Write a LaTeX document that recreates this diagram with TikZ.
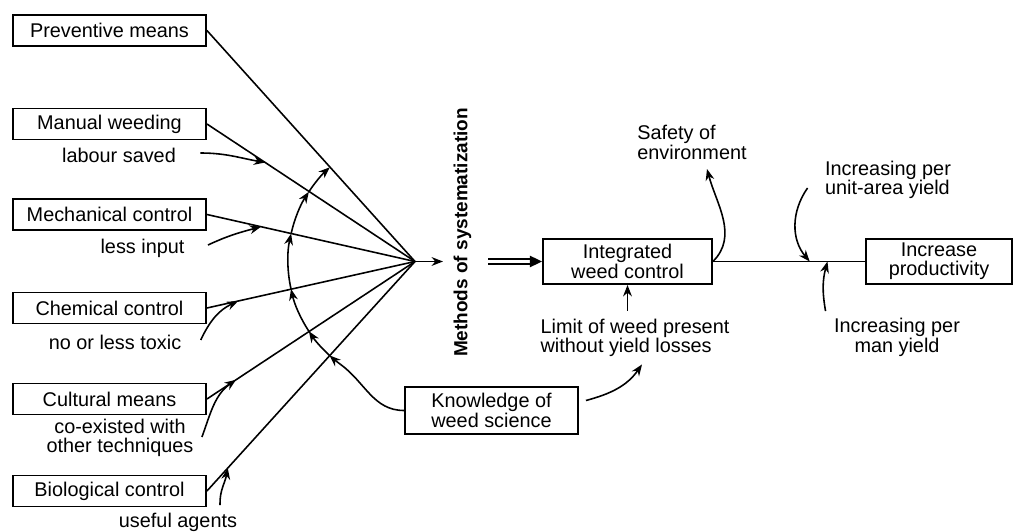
\documentclass[tikz,border=0pt]{standalone}
\usepackage{fontspec}
\setmainfont{Liberation Sans}
\usetikzlibrary{arrows.meta, calc}
\tikzset{
  box/.style={draw, line width=1.1pt, minimum width=3.86cm, minimum height=0.62cm, inner sep=2pt, align=center, font=\fontsize{11.3}{11}\selectfont},
  note/.style={inner sep=1pt, align=center, font=\fontsize{11.3}{11}\selectfont},
}

\begin{document}
\begin{tikzpicture}[x=0.02cm, y=0.02cm, line width=0.9pt, >={Stealth[length=6.5pt,width=5pt]}]
  \useasboundingbox (0,0) rectangle (1014,531);

  \node[box] (pm) at (109.5,500.5) {Preventive means};
  \node[box] (mw) at (109.5,407) {Manual weeding};
  \node[box] (mc) at (109.5,316.5) {Mechanical control};
  \node[box] (cc) at (109.5,223) {Chemical control};
  \node[box] (cm) at (109.5,132) {Cultural means};
  \node[box] (bc) at (109.5,40) {Biological control};

  \node[note] (ls) at (119,376) {labour saved};
  \node[note] (li) at (142.5,283) {less input};
  \node[note] (nt) at (115,189) {no or less toxic};
  \node[note] (ce) at (120,93) {co-existed with\\other techniques};
  \node[note] (ua) at (178,9) {useful agents};

  \coordinate (focal) at (415,269.5);
  \coordinate (out) at (443,269.5);
  \foreach \b in {pm,mw,mc,cc,cm,bc}
    \draw (\b.east) -- (focal);
  \draw[->] (focal) -- (out);

  \draw[->] ([shift={(22,2)}]ls.east) to[out=0,in=170] ($(mw.east)!0.28!(focal)$);
  \draw[->] ([shift={(21,3)}]li.east) to[out=25,in=195] ($(mc.east)!0.26!(focal)$);
  \draw[->] ([shift={(17,2)}]nt.east) to[out=65,in=205] ($(cc.east)!0.15!(focal)$);
  \draw[->] ([shift={(6,1)}]ce.east) to[out=70,in=215] ($(cm.east)!0.14!(focal)$);
  \draw[->] ([shift={(42,5)}]ua.north) to[out=92,in=-100] ($(bc.east)!0.10!(focal)$);

  \node[box, minimum width=3.46cm, minimum height=0.94cm] (kw) at (491.5,120.5) {Knowledge of\\weed science};
  \draw (kw.west) to[out=180,in=-36] ($(focal)+(234:127)$);
  \foreach \a/\b in {234/227.7, 227.7/213.3, 213.3/192.5, 192.5/167.3, 167.3/146.7, 146.7/132.1}
    \draw[->] (focal) ++(\a:127) arc[start angle=\a, end angle=\b, radius=127];

  \node[font=\fontsize{10.8}{11}\selectfont\bfseries, rotate=90] (ms) at (462.5,298.5) {Methods of systematization};

  \node[box, minimum width=3.38cm, minimum height=0.9cm] (int) at (627.5,269.5) {Integrated\\weed control};
  \coordinate (ds) at (488,269.5);
  \draw[double, double distance=2.2pt, shorten >=6pt] (ds) -- (int.west);
  \draw[-{Triangle[length=7pt,width=6.5pt]}] ([shift={(-12,0)}]int.west) -- (int.west);

  \node[note, align=left] (lim) at (635,193) {Limit of weed present\\without yield losses};
  \draw[->] ($(lim.north -| int.south)+(0,6)$) -- (int.south);
  \draw[->] ([shift={(7,10)}]kw.east) to[out=15,in=-125] ([shift={(7,-5)}]lim.south);

  \node[note, align=left] (saf) at (692,388.5) {Safety of\\environment};
  \draw[->] (int.east) to[out=45,in=-75] ([shift={(15,-7)}]saf.south);

  \node[box, minimum width=2.92cm, minimum height=0.86cm] (ip) at (939,269.5) {Increase\\productivity};
  \draw (int.east) -- (ip.west);

  \node[note, align=left] (ipu) at (888,351) {Increasing per\\unit-area yield};
  \node[note] (ipm) at (897,193.5) {Increasing per\\man yield};
  \draw[->] ([shift={(-15,-8)}]ipu.west) to[out=235,in=130] ($(int.east)!0.636!(ip.west)$);
  \draw[->] ([shift={(-6,5)}]ipm.north west) to[out=100,in=-105] ($(int.east)!0.753!(ip.west)$);
\end{tikzpicture}
\end{document}
